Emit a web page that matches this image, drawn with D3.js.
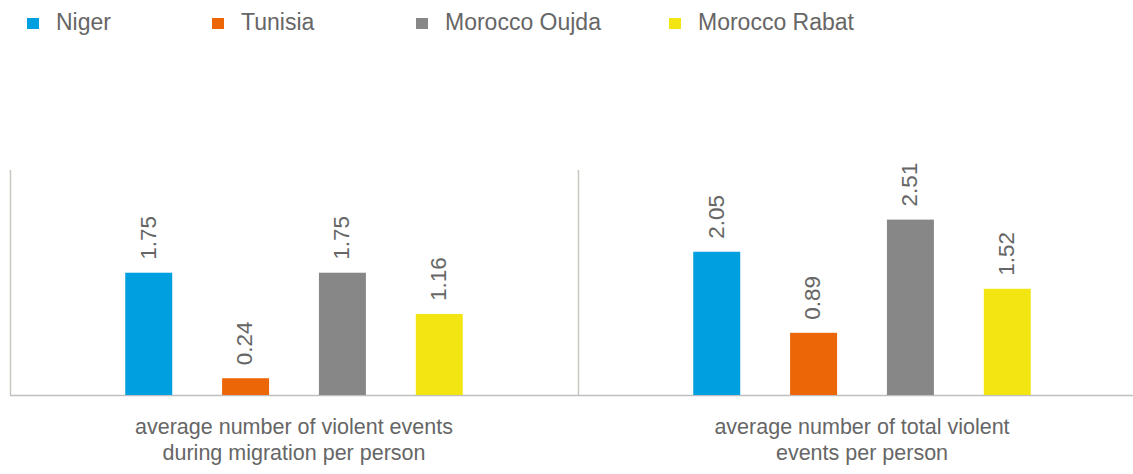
<!DOCTYPE html>
<html>
<head lang="en">
	<meta charset="UTF-8">
	<title></title>
	<script src="https://cdn.jsdelivr.net/npm/d3@7"></script>
	<style>
		body { margin: 0; background: #fff; }
		text { font-family: "Liberation Sans", Arial, sans-serif; fill: #666; }
	</style>
</head>
<body>

<script>

	// chart data
	var categories = [
		["average number of violent events", "during migration per person"],
		["average number of total violent", "events per person"]
	];
	var series = ["Niger", "Tunisia", "Morocco Oujda", "Morocco Rabat"];
	var colors = ["#009fdf", "#ec6608", "#878787", "#f3e511"];
	var niger = [1.75, 2.05];
	var tunisia = [0.24, 0.89];
	var oujda = [1.75, 2.51];
	var rabat = [1.16, 1.52];
	var values = [niger, tunisia, oujda, rabat];

	var W = 1133, H = 474;
	var svg = d3.select('body').append("svg").attr("width", W).attr("height", H);

	var x0 = d3.scaleBand().domain([0, 1]).range([10, 1146]).padding(0);
	var x1 = d3.scaleBand().domain(d3.range(series.length))
			.range([0, x0.bandwidth()])
			.paddingInner(0.515)
			.paddingOuter(1.19);
	var y = d3.scaleLinear().domain([0, 3.22]).range([395, 170]);

	// axis lines
	svg.append("line")
			.attr("x1", 10).attr("x2", W)
			.attr("y1", y(0) + 0.5).attr("y2", y(0) + 0.5)
			.style("stroke", "#bfbfbf").style("stroke-width", 1.5);
	svg.selectAll(".sep").data([0, 1]).enter().append("line")
			.attr("x1", function (d) { return Math.round(x0(d)) + 0.5; })
			.attr("x2", function (d) { return Math.round(x0(d)) + 0.5; })
			.attr("y1", y.range()[1]).attr("y2", y(0))
			.style("stroke", "#c8c8c0").style("stroke-width", 1.5);

	// bars + labels
	var groups = svg.selectAll(".grp").data(d3.range(categories.length)).enter()
			.append("g")
			.attr("transform", function (c) { return "translate(" + x0(c) + ",0)"; });

	groups.each(function (c) {
		var g = d3.select(this);
		series.forEach(function (s, i) {
			var v = values[i][c];
			g.append("rect")
					.attr("x", x1(i))
					.attr("y", y(v))
					.attr("width", x1.bandwidth())
					.attr("height", y(0) - y(v))
					.style("fill", colors[i]);
			var cx = x1(i) + x1.bandwidth() / 2 - 1, ty = y(v) - 13;
			g.append("text")
					.attr("transform", "translate(" + cx + "," + ty + ") rotate(-90)")
					.attr("dy", "0.35em")
					.style("font-size", "22.5px")
					.text(v.toFixed(2));
		});

		var lbl = g.append("text")
				.attr("text-anchor", "middle")
				.style("font-size", "21.5px");
		categories[c].forEach(function (line, k) {
			lbl.append("tspan")
					.attr("x", x0.bandwidth() / 2)
					.attr("y", 434 + k * 26)
					.text(line);
		});
	});

	// legend
	var legendX = [27, 212, 416, 669];
	var legend = svg.selectAll(".leg").data(series).enter().append("g")
			.attr("transform", function (d, i) { return "translate(" + legendX[i] + ",0)"; });
	legend.append("rect")
			.attr("x", 0).attr("y", 18).attr("width", 12).attr("height", 11)
			.style("fill", function (d, i) { return colors[i]; });
	legend.append("text")
			.attr("x", 29).attr("y", 30)
			.style("font-size", "23px")
			.text(function (d) { return d; });

</script>

</body>
</html>
